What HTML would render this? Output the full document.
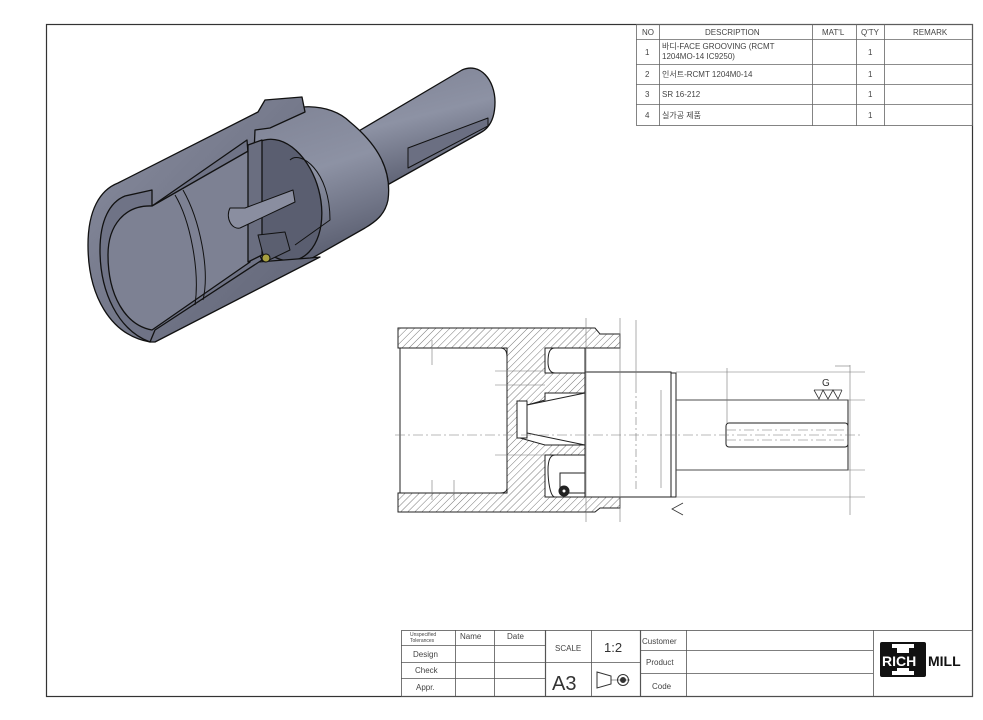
<!DOCTYPE html>
<html><head><meta charset="utf-8"><style>
html,body{margin:0;padding:0;background:#fff}
svg{display:block}
text{font-family:"Liberation Sans","Noto Sans CJK KR",sans-serif;fill:#444}
</style></head><body>
<svg width="983" height="720" viewBox="0 0 983 720" xmlns="http://www.w3.org/2000/svg">
<defs>
<pattern id="h" width="5" height="5" patternUnits="userSpaceOnUse" patternTransform="rotate(45)"><line x1="0" y1="0" x2="0" y2="5" stroke="#555" stroke-width="0.8"/></pattern>
<linearGradient id="g1" x1="0" y1="0" x2="0.3" y2="1"><stop offset="0" stop-color="#7e8294"/><stop offset="0.5" stop-color="#8d92a4"/><stop offset="1" stop-color="#5c6072"/></linearGradient>
<linearGradient id="g2" x1="0" y1="0" x2="1" y2="1"><stop offset="0" stop-color="#8a8ea0"/><stop offset="1" stop-color="#5e6274"/></linearGradient>
</defs>
<rect x="0" y="0" width="983" height="720" fill="#fff"/>
<rect x="46.5" y="24.5" width="926" height="672" fill="none" stroke="#333" stroke-width="1.2"/>

<!-- BOM table -->
<g stroke="#666" stroke-width="0.8" fill="none">
<rect x="636.5" y="24.5" width="336" height="101"/>
<line x1="636" y1="39.5" x2="972" y2="39.5"/>
<line x1="636" y1="64.5" x2="972" y2="64.5"/>
<line x1="636" y1="84.5" x2="972" y2="84.5"/>
<line x1="636" y1="104.5" x2="972" y2="104.5"/>
<line x1="659.5" y1="24" x2="659.5" y2="126"/>
<line x1="812.5" y1="24" x2="812.5" y2="126"/>
<line x1="856.5" y1="24" x2="856.5" y2="126"/>
<line x1="884.5" y1="24" x2="884.5" y2="126"/>
</g>
<g font-size="8">
<text x="642" y="35">NO</text><text x="705" y="35">DESCRIPTION</text><text x="822" y="35">MAT'L</text><text x="861" y="35">Q'TY</text><text x="913" y="35">REMARK</text>
<text x="645" y="55">1</text><text x="662" y="49">바디-FACE GROOVING (RCMT</text><text x="662" y="59">1204MO-14 IC9250)</text><text x="868" y="55">1</text>
<text x="645" y="77">2</text><text x="662" y="77">인서트-RCMT 1204M0-14</text><text x="868" y="77">1</text>
<text x="645" y="97">3</text><text x="662" y="97">SR 16-212</text><text x="868" y="97">1</text>
<text x="645" y="118">4</text><text x="662" y="118">실가공 제품</text><text x="868" y="118">1</text>
</g>

<!-- Title block -->
<g stroke="#555" stroke-width="0.8" fill="none">
<rect x="401.5" y="630.5" width="571" height="66"/>
<line x1="401" y1="645.5" x2="545" y2="645.5"/>
<line x1="401" y1="662.5" x2="640" y2="662.5"/>
<line x1="401" y1="678.5" x2="545" y2="678.5"/>
<line x1="455.5" y1="630" x2="455.5" y2="696"/>
<line x1="494.5" y1="630" x2="494.5" y2="696"/>
<line x1="545.5" y1="630" x2="545.5" y2="696" stroke-width="1.2"/>
<line x1="591.5" y1="630" x2="591.5" y2="696"/>
<line x1="640.5" y1="630" x2="640.5" y2="696" stroke-width="1.2"/>
<line x1="640" y1="650.5" x2="873" y2="650.5"/>
<line x1="640" y1="673.5" x2="873" y2="673.5"/>
<line x1="686.5" y1="630" x2="686.5" y2="696"/>
<line x1="873.5" y1="630" x2="873.5" y2="696"/>
</g>
<g font-size="8">
<text x="410" y="636" font-size="5">Unspecified</text><text x="410" y="642" font-size="5">Tolerances</text>
<text x="460" y="639">Name</text><text x="507" y="639">Date</text>
<text x="413" y="657">Design</text><text x="415" y="673">Check</text><text x="416" y="690">Appr.</text>
<text x="555" y="651">SCALE</text>
<text x="642" y="644">Customer</text><text x="646" y="665">Product</text><text x="652" y="689">Code</text>
</g>
<text x="604" y="652" font-size="13" style="fill:#333">1:2</text>
<text x="552" y="690" font-size="20" style="fill:#333">A3</text>
<g stroke="#333" stroke-width="1" fill="none">
<path d="M597,672 L611,676 L611,684 L597,688 Z"/>
<circle cx="623" cy="680" r="5.5"/><circle cx="623" cy="680" r="2.5" fill="#333"/>
<line x1="611" y1="680" x2="630" y2="680" stroke-width="0.6"/>
</g>
<rect x="880" y="642" width="46" height="35" rx="2" fill="#111"/>
<rect x="897" y="644" width="12" height="31" fill="#fff"/><rect x="892" y="644" width="22" height="4" fill="#fff"/><rect x="892" y="671" width="22" height="4" fill="#fff"/>
<rect x="883" y="653" width="40" height="15" fill="#111"/>
<text x="882" y="666" font-size="14" font-weight="bold" style="fill:#fff">RICH</text>
<text x="928" y="666" font-size="14" font-weight="bold" style="fill:#111">MILL</text>

<!-- 3D view -->
<g stroke="#111" stroke-width="1.3" stroke-linejoin="round">
<!-- shank -->
<path d="M352,135 L462,70 C480,62 495,80 495,102 C495,118 490,128 480,133 L382,188 Z" fill="url(#g1)"/>
<path d="M408,148 L488,118 L488,126 L408,168 Z" fill="#6b6f82" stroke-width="1"/>
<!-- mid cylinder -->
<path d="M262,120 C290,102 330,102 350,122 C378,145 392,170 388,200 C385,215 375,222 365,228 L300,265 C265,275 240,250 238,210 C236,170 245,132 262,120 Z" fill="url(#g1)"/>
<ellipse cx="280" cy="200" rx="40" ry="62" fill="#5a5e70" transform="rotate(-15 280 200)"/>
<!-- outer body -->
<path d="M150,342 C110,335 88,295 88,245 C88,210 100,190 118,183 L258,112 L265,100 L302,97 L305,112 L270,128 L255,130 L250,245 L258,262 L310,258 L320,257 L155,342 Z" fill="url(#g2)"/>
<path d="M150,342 C118,330 100,292 100,250 C100,220 110,202 125,196 L152,190 L152,206 L247,140 L255,245 L262,260 L155,330 Z" fill="#6f7386"/>
<path d="M152,206 C125,205 108,225 108,255 C108,295 125,325 152,330 L250,262 L250,150 Z" fill="#7d8193"/>
<path d="M248,145 L262,140 L262,255 L248,262 Z" fill="#6a6e80"/>
<path d="M290,160 C300,150 330,170 330,220 L295,245" fill="none" stroke-width="1"/>
<path d="M175,195 C190,220 200,270 195,305" fill="none" stroke-width="1"/>
<path d="M183,190 C200,220 210,270 203,300" fill="none" stroke-width="1"/>
<!-- cone -->
<path d="M230,208 C225,218 232,230 240,228 L295,202 L293,190 L245,208 Z" fill="#8a8ea0" stroke-width="1"/>
<path d="M258,235 L285,232 L290,250 L265,262 Z" fill="#5b5f70" stroke-width="1"/>
<circle cx="266" cy="258" r="4" fill="#a8a040" stroke-width="1"/>
</g>

<!-- Section view -->
<g stroke="#222" stroke-width="1" fill="url(#h)">
<path d="M398,328 L595,328 L600,334 L620,334 L620,348 L545,348 L545,373 L585,373 L585,393 L545,393 L545,400 L520,407 L520,438 L545,445 L585,445 L585,455 L545,455 L545,497 L585,497 L585,493 L620,493 L620,508 L600,508 L595,512 L398,512 L398,493 L507,493 L507,348 L398,348 Z"/>
</g>
<g stroke="#222" stroke-width="1" fill="#fff">
<path d="M400,348 L500,348 C506,348 507,352 507,358 L507,488 C507,492 503,493 500,493 L400,493 Z"/>
<rect x="517" y="401" width="10" height="37"/>
<path d="M527,405 L585,393 L585,445 L527,433 Z"/>
<path d="M555,348 L585,348 L585,373 L555,373 C550,373 548,368 548,362 C548,352 550,348 555,348 Z"/>
<path d="M555,455 L585,455 L585,497 L555,497 C550,497 548,480 548,470 C548,460 550,455 555,455 Z"/>
<rect x="585" y="372" width="86" height="125"/>
<rect x="671" y="373" width="5" height="124"/>
<rect x="676" y="400" width="172" height="70"/>
<rect x="726" y="423" width="122" height="24" rx="3"/>
<rect x="560" y="473" width="25" height="20"/>
<circle cx="564" cy="491" r="5" fill="#222"/><circle cx="564" cy="491" r="2" fill="#fff"/>
</g>
<g stroke="#777" stroke-width="0.6" fill="none">
<line x1="395" y1="435" x2="860" y2="435" stroke-dasharray="10,3,2,3"/>
<line x1="726" y1="430" x2="848" y2="430" stroke-dasharray="10,3,2,3"/>
<line x1="726" y1="440" x2="848" y2="440" stroke-dasharray="10,3,2,3"/>
<line x1="636" y1="385" x2="636" y2="490" stroke-dasharray="8,3,2,3"/>
<line x1="661" y1="390" x2="661" y2="488"/>
<line x1="676" y1="372" x2="865" y2="372"/>
<line x1="676" y1="497" x2="865" y2="497"/>
<line x1="676" y1="400" x2="865" y2="400"/>
<line x1="676" y1="470" x2="865" y2="470"/>
<line x1="727" y1="368" x2="727" y2="423"/>
<line x1="850" y1="365" x2="850" y2="515"/>
<line x1="586" y1="318" x2="586" y2="522"/>
<line x1="620" y1="318" x2="620" y2="522"/>
<line x1="636" y1="320" x2="636" y2="385"/>
<line x1="495" y1="371" x2="545" y2="371"/>
<line x1="495" y1="385" x2="545" y2="385"/>
<line x1="495" y1="455" x2="545" y2="455"/>
<line x1="432" y1="340" x2="432" y2="365"/>
<line x1="432" y1="480" x2="432" y2="500"/>
<line x1="454" y1="480" x2="454" y2="500"/>
<line x1="835" y1="366" x2="850" y2="366"/>
</g>
<text x="822" y="386" font-size="10" style="fill:#333">G</text>
<path d="M814,390 L842,390 M814,390 L819,399 L823,390 L828,399 L833,390 L838,399 L842,390" stroke="#333" stroke-width="0.8" fill="none"/>
<path d="M683,503 L672,509 L683,515" stroke="#333" stroke-width="0.8" fill="none"/>
</svg>
</body></html>
